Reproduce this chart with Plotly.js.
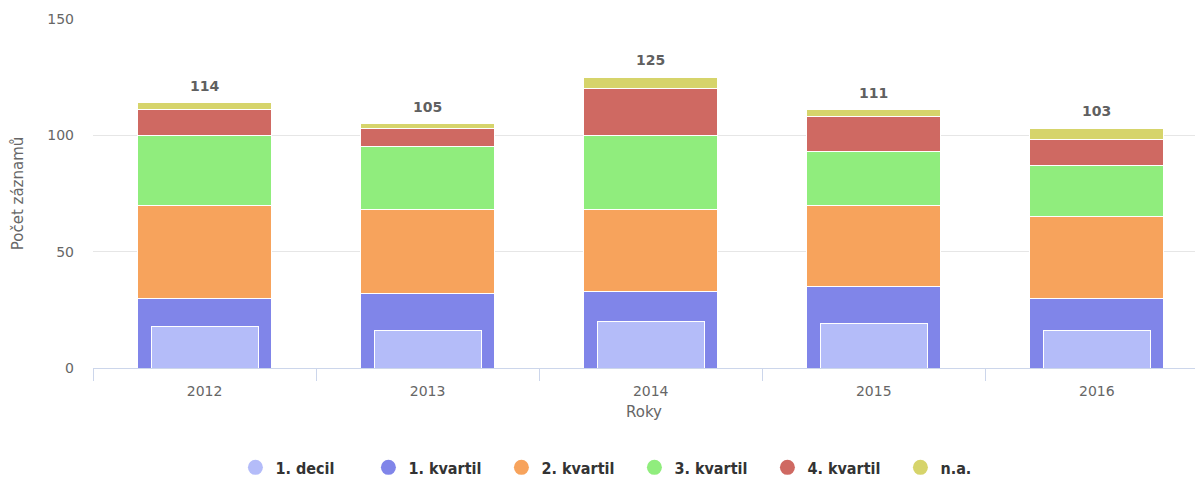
<!DOCTYPE html>
<html>
<head>
<meta charset="utf-8">
<script src="https://cdn.plot.ly/plotly-3.0.1.min.js"></script>
<style>
  html, body { margin: 0; padding: 0; background: #fff; }
  #graf { width: 1195px; height: 477px; }
</style>
</head>
<body>
<div id="graf"></div>
<script>
var roky = ["2012", "2013", "2014", "2015", "2016"];

var decil1   = [18, 16, 20, 19, 16];
var kvartil1 = [30, 32, 33, 35, 30];
var kvartil2 = [40, 36, 35, 35, 35];
var kvartil3 = [30, 27, 32, 23, 22];
var kvartil4 = [11, 8, 20, 15, 11];
var na       = [3, 2, 5, 3, 5];

var nazvy = ["1. decil", "1. kvartil", "2. kvartil", "3. kvartil", "4. kvartil", "n.a."];
var barvy = ["#b4bcf9", "#8085e9", "#f7a35c", "#90ed7d", "#cf6962", "#d6d46b"];

var soucty = roky.map(function (r, i) {
  return kvartil1[i] + kvartil2[i] + kvartil3[i] + kvartil4[i] + na[i];
});

function sloupec(y, i) {
  return {
    x: roky, y: y, type: 'bar', name: nazvy[i], legendgroup: nazvy[i],
    showlegend: false, width: 0.6,
    marker: { color: barvy[i], line: { color: '#ffffff', width: 1 } },
    hoverinfo: 'x+y+name'
  };
}

var data = [
  sloupec(kvartil1, 1),
  sloupec(kvartil2, 2),
  sloupec(kvartil3, 3),
  sloupec(kvartil4, 4),
  sloupec(na, 5)
];

// 1. decil - uzsi sloupec pres 1. kvartil
var decil = sloupec(decil1, 0);
decil.xaxis = 'x2';
decil.width = 0.48;
data.push(decil);

// legenda s kolecky
nazvy.forEach(function (n, i) {
  data.push({
    x: [roky[0]], y: [null], type: 'scatter', mode: 'markers', name: n,
    legendgroup: n, marker: { color: barvy[i], size: 15, symbol: 'circle' },
    hoverinfo: 'skip'
  });
});

// soucty nad sloupci (x = poradi kategorie)
var popisky = roky.map(function (r, i) {
  return {
    x: i, y: soucty[i], xref: 'x', yref: 'y', text: String(soucty[i]),
    showarrow: false, yanchor: 'bottom', yshift: 7,
    font: { family: 'DejaVu Sans', size: 14, color: '#606060', weight: 'bold' }
  };
});

var layout = {
  width: 1195, height: 477,
  margin: { l: 93, r: 0, t: 19, b: 109 },
  barmode: 'stack',
  paper_bgcolor: '#ffffff', plot_bgcolor: '#ffffff',
  font: { family: 'DejaVu Sans', size: 14, color: '#666666' },
  annotations: popisky,
  xaxis: {
    type: 'category', range: [-0.5, 4.44],
    showgrid: false, zeroline: false,
    showline: true, linecolor: '#ccd6eb', linewidth: 1,
    ticks: 'outside', tickson: 'boundaries', ticklen: 12, tickcolor: '#ccd6eb',
    ticklabelstandoff: 10,
    tickfont: { size: 14, color: '#666666' },
    title: { text: 'Roky', font: { size: 15, color: '#666666' }, standoff: 8 }
  },
  xaxis2: {
    type: 'category', overlaying: 'x', range: [-0.5, 4.44], visible: false
  },
  yaxis: {
    range: [0, 150], tickvals: [0, 50, 100, 150],
    showgrid: true, gridcolor: '#e6e6e6', zeroline: false, showline: false,
    ticks: '', ticklabelstandoff: 18,
    tickfont: { size: 14, color: '#666666' },
    title: { text: 'Počet záznamů', font: { size: 15, color: '#666666' }, standoff: 20 }
  },
  showlegend: true,
  legend: {
    orientation: 'h', xref: 'container', yref: 'container',
    x: 0.197, xanchor: 'left', y: 0.02, yanchor: 'middle',
    traceorder: 'normal', entrywidth: 88, itemwidth: 30,
    font: { family: 'Liberation Sans Narrow, DejaVu Sans Condensed, DejaVu Sans', size: 16, color: '#333333', weight: 'bold' }
  }
};

Plotly.newPlot('graf', data, layout, { displayModeBar: false, responsive: false });
</script>
</body>
</html>
